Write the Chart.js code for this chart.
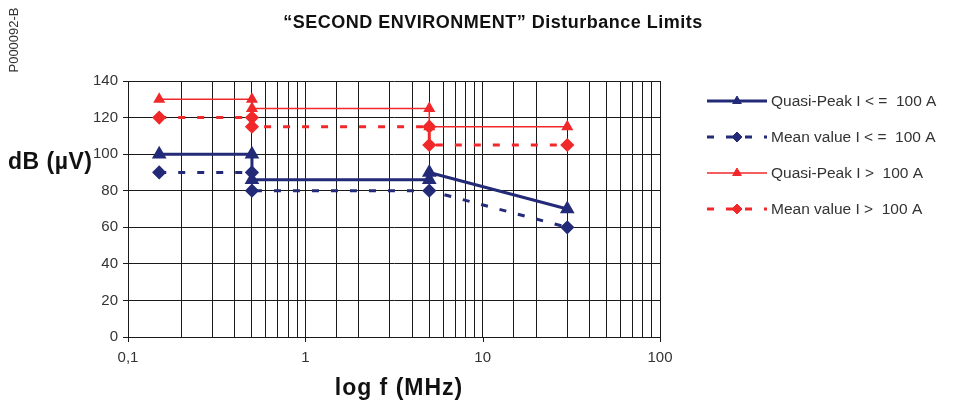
<!DOCTYPE html>
<html>
<head>
<meta charset="utf-8">
<script src="https://cdn.jsdelivr.net/npm/chart.js@4/dist/chart.umd.min.js"></script>
<style>
  body { margin: 0; background: #fff; }
  canvas { display: block; }
</style>
</head>
<body>
<canvas id="limitsChart" width="953" height="407"></canvas>
<script>
// frequencies (MHz) and limits (dB µV)
const freqSteps = [0.15, 0.5, 0.5, 5, 5, 30];
const freqMeanLow = [0.15, 0.5, 0.5, 5, 30];
const qpLow = [100, 100, 86, 86, 90, 70];
const meanLow = [90, 90, 80, 80, 60];
const qpHigh = [130, 130, 125, 125, 115, 115];
const meanHigh = [120, 120, 115, 115, 105, 105];

const seriesLabels = [
  "Quasi-Peak I < =  100 A",
  "Mean value I < =  100 A",
  "Quasi-Peak I >  100 A",
  "Mean value I >  100 A"
];
const decadeValues = [0.1, 1, 10, 100];
const decadeLabels = ["0,1", "1", "10", "100"];
const yTicks = [0, 20, 40, 60, 80, 100, 120, 140];

const chartTitle = "\u201cSECOND ENVIRONMENT\u201d Disturbance Limits";
const yTitle = "dB (\u00b5V)";
const xTitle = "log f (MHz)";
const figCode = "P000092-B";

const navy = "#232a78";
const red = "#f0282a";
const font = "'Liberation Sans', Arial, sans-serif";

function toPoints(xs, ys) {
  return ys.map(function (y, i) { return { x: xs[i], y: y }; });
}

const extraText = {
  id: "extraText",
  afterDraw: function (chart) {
    const ctx = chart.ctx;
    const area = chart.chartArea;
    const xScale = chart.scales.x;
    ctx.save();

    // tick marks under the x axis, decades only
    ctx.strokeStyle = "#1a1a1a";
    ctx.lineWidth = 1;
    decadeValues.forEach(function (v) {
      const px = Math.round(xScale.getPixelForValue(v)) + 0.5;
      ctx.beginPath();
      ctx.moveTo(px, area.bottom);
      ctx.lineTo(px, area.bottom + 5);
      ctx.stroke();
    });

    ctx.fillStyle = "#111";
    ctx.textBaseline = "middle";
    ctx.textAlign = "center";
    ctx.letterSpacing = "0.5px";
    ctx.font = "bold 18px " + font;
    ctx.fillText(chartTitle, 493, 23);

    ctx.font = "bold 23px " + font;
    ctx.letterSpacing = "1px";
    ctx.fillText(xTitle, (area.left + area.right) / 2 + 5, 389);

    ctx.textAlign = "left";
    ctx.letterSpacing = "0.5px";
    ctx.font = "bold 23px " + font;
    ctx.fillText(yTitle, 8, 163);
    ctx.letterSpacing = "0px";

    ctx.save();
    ctx.translate(14, 40);
    ctx.rotate(-Math.PI / 2);
    ctx.textAlign = "center";
    ctx.fillStyle = "#333";
    ctx.font = "13px " + font;
    ctx.fillText(figCode, 0, 0);
    ctx.restore();

    // legend: line sample with marker, then label
    chart.data.datasets.forEach(function (ds, i) {
      const y = 101 + i * 36;
      ctx.save();
      ctx.strokeStyle = ds.borderColor;
      ctx.lineWidth = ds.borderWidth;
      ctx.setLineDash(ds.borderDash || []);
      ctx.beginPath();
      ctx.moveTo(707, y);
      ctx.lineTo(767, y);
      ctx.stroke();
      ctx.setLineDash([]);
      ctx.fillStyle = ds.pointBackgroundColor;
      ctx.strokeStyle = ds.pointBorderColor;
      ctx.lineWidth = 1;
      Chart.helpers.drawPoint(ctx, {
        pointStyle: ds.pointStyle, radius: 5, rotation: 0, borderWidth: 1
      }, 737, y);
      ctx.restore();
      ctx.fillStyle = "#333";
      ctx.textAlign = "left";
      ctx.font = "15.5px " + font;
      ctx.fillText(ds.label, 771, y + 1);
    });
    ctx.restore();
  }
};

new Chart(document.getElementById("limitsChart"), {
  type: "scatter",
  data: {
    datasets: [
      {
        label: seriesLabels[0],
        data: toPoints(freqSteps, qpLow),
        showLine: true,
        borderColor: navy,
        borderWidth: 3,
        pointStyle: "triangle",
        pointRadius: 5.5,
        pointBackgroundColor: navy,
        pointBorderColor: navy
      },
      {
        label: seriesLabels[1],
        data: toPoints(freqMeanLow, meanLow),
        showLine: true,
        borderColor: navy,
        borderWidth: 3,
        borderDash: [7, 12],
        pointStyle: "rectRot",
        pointRadius: 5,
        pointBackgroundColor: navy,
        pointBorderColor: navy
      },
      {
        label: seriesLabels[2],
        data: toPoints(freqSteps, qpHigh),
        showLine: true,
        borderColor: red,
        borderWidth: 1.5,
        pointStyle: "triangle",
        pointRadius: 5.5,
        pointBackgroundColor: red,
        pointBorderColor: red
      },
      {
        label: seriesLabels[3],
        data: toPoints(freqSteps, meanHigh),
        showLine: true,
        borderColor: red,
        borderWidth: 3,
        borderDash: [7, 12],
        pointStyle: "rectRot",
        pointRadius: 5,
        pointBackgroundColor: red,
        pointBorderColor: red
      }
    ]
  },
  options: {
    responsive: false,
    animation: false,
    devicePixelRatio: 1,
    layout: { padding: { left: 0, top: 81, right: 293, bottom: 0 } },
    plugins: {
      legend: { display: false },
      tooltip: { enabled: false }
    },
    scales: {
      x: {
        type: "logarithmic",
        min: decadeValues[0],
        max: decadeValues[decadeValues.length - 1],
        afterFit: function (scale) { scale.height = 70; },
        grid: { color: "#1a1a1a", lineWidth: 1, drawTicks: false },
        border: { color: "#1a1a1a" },
        ticks: {
          autoSkip: false,
          maxRotation: 0,
          padding: 12,
          color: "#333",
          font: { size: 15, family: font },
          callback: function (value) {
            const idx = decadeValues.findIndex(function (d) { return Math.abs(d - value) < 1e-9; });
            return idx >= 0 ? decadeLabels[idx] : "";
          }
        }
      },
      y: {
        min: yTicks[0],
        max: yTicks[yTicks.length - 1],
        afterFit: function (scale) { scale.width = 128; },
        afterBuildTicks: function (scale) {
          scale.ticks = yTicks.map(function (v) { return { value: v }; });
        },
        grid: { color: "#1a1a1a", lineWidth: 1, tickLength: 5 },
        border: { color: "#1a1a1a" },
        ticks: {
          padding: 5,
          color: "#333",
          font: { size: 15, family: font }
        }
      }
    }
  },
  plugins: [extraText]
});
</script>
</body>
</html>
